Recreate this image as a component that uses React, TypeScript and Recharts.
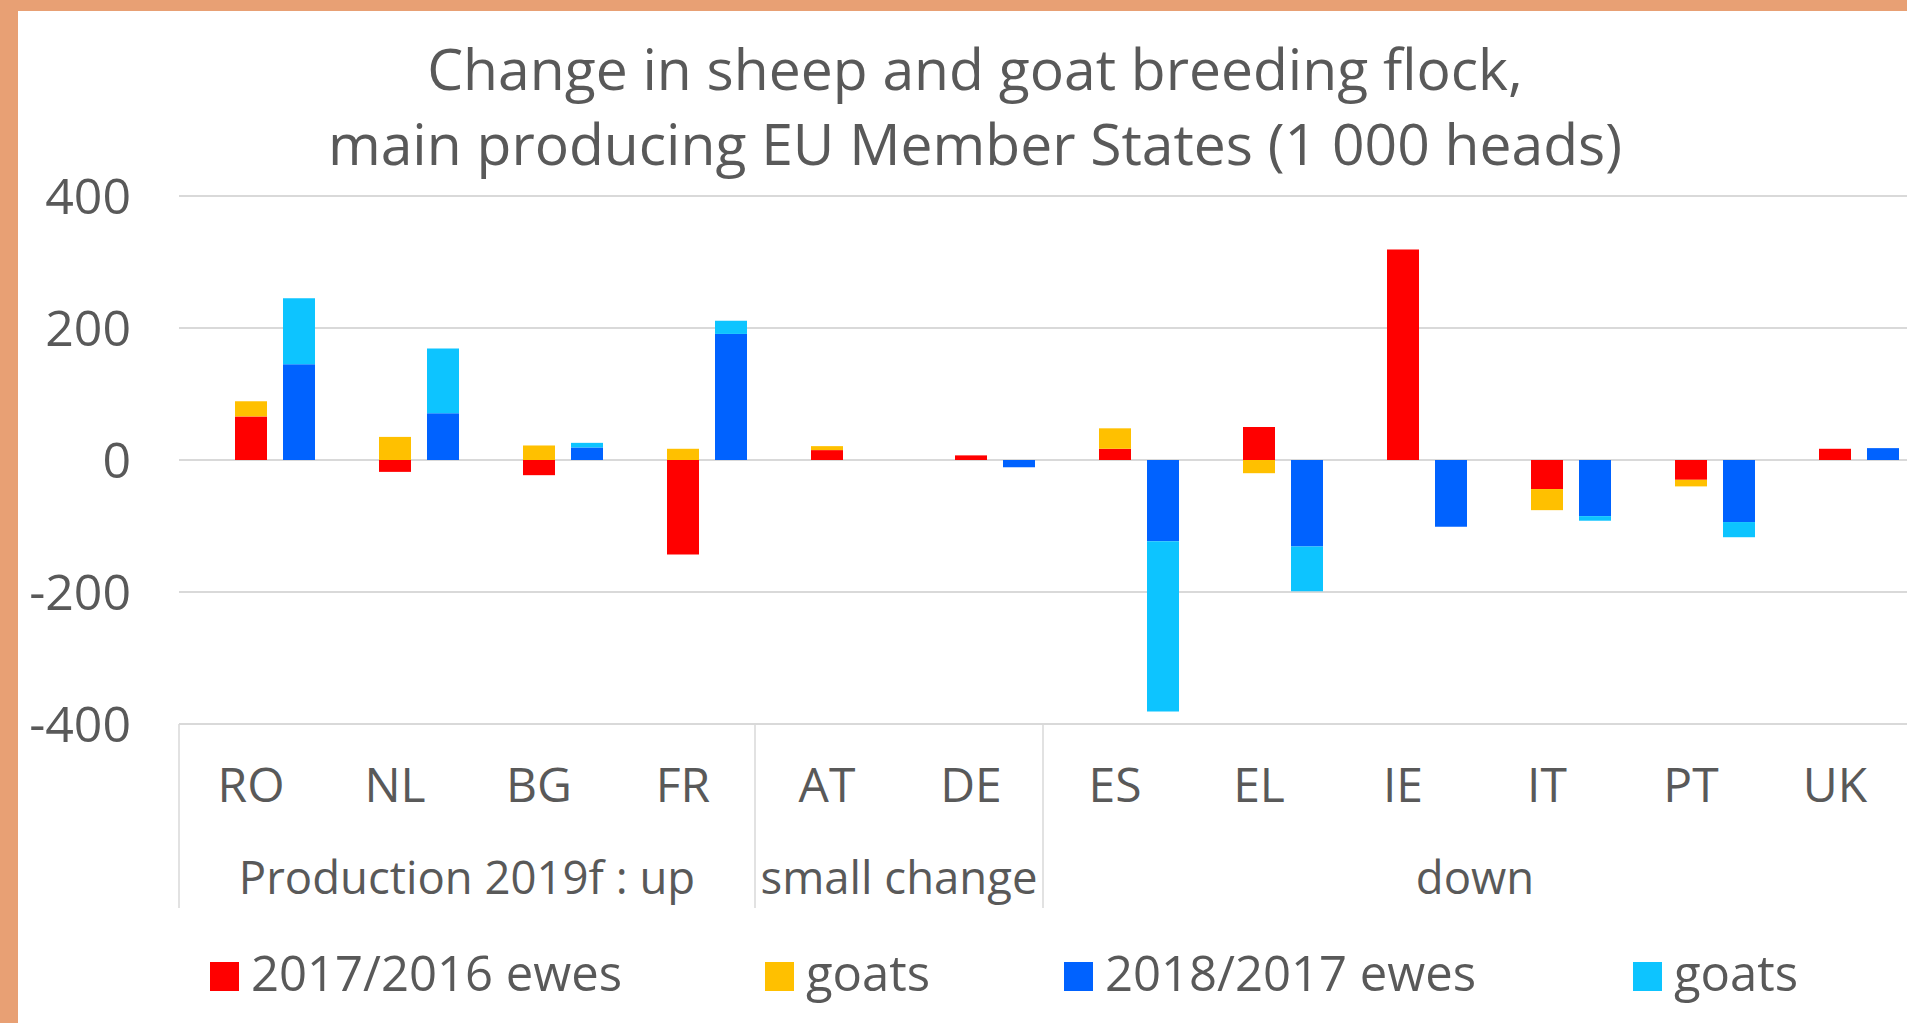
import React from 'react';
import { BarChart, Bar, XAxis, YAxis, CartesianGrid } from 'recharts';

// ---------- data ----------
const categories = ['RO', 'NL', 'BG', 'FR', 'AT', 'DE', 'ES', 'EL', 'IE', 'IT', 'PT', 'UK'];
const ewes2017 = [66, -18, -23, -143, 15, 7, 17, 50, 319, -44, -30, 17];
const goats2017 = [23, 35, 22, 17, 6, 0, 31, -20, 0, -32, -10, 0];
const ewes2018 = [145, 71, 19, 191, 0, -11, -123, -131, -101, -85, -94, 18];
const goats2018 = [100, 98, 7, 20, 0, 0, -258, -68, 0, -7, -23, 0];
const groupLabels = ['Production 2019f : up', 'small change', 'down'];
const groupSizes = [4, 2, 6];
const yTicks = [-400, -200, 0, 200, 400];
const seriesKeys = ['ewes2017', 'goats2017', 'ewes2018', 'goats2018'];
const seriesNames = ['2017/2016 ewes', 'goats', '2018/2017 ewes', 'goats'];
const seriesColors = ['#FF0000', '#FFC000', '#0062FF', '#0DC4FF'];
const seriesStacks = ['y2017', 'y2017', 'y2018', 'y2018'];
const titleLines = [
  'Change in sheep and goat breeding flock,',
  'main producing EU Member States (1 000 heads)',
];

// ---------- layout / style ----------
const W = 1907;
const H = 1023;
const FONT = "'Open Sans', sans-serif";
const TEXT = '#595959';
const GRID = '#D9D9D9';
const BORDER = '#E8A074';
const Y_AXIS_W = 179;
const X_AXIS_H = 200;
const MARGIN = { top: 196, right: 0, bottom: 99, left: 0 };
const BAND = (W - Y_AXIS_W - MARGIN.left - MARGIN.right) / categories.length;
const LEGEND_LEFTS = [210, 765, 1064, 1633];

const data = categories.map((cat, i) => ({
  cat,
  spacer: 0,
  ewes2017: ewes2017[i],
  goats2017: goats2017[i],
  ewes2018: ewes2018[i],
  goats2018: goats2018[i],
}));

// index -> group info for group starts
const groupStarts: Record<number, { label: string; size: number }> = {};
{
  let idx = 0;
  groupSizes.forEach((s, g) => {
    groupStarts[idx] = { label: groupLabels[g], size: s };
    idx += s;
  });
}

function CategoryTick(props: any) {
  const { x, y, payload, index } = props;
  const half = typeof payload?.offset === 'number' && payload.offset > 0 ? payload.offset : BAND / 2;
  const g = groupStarts[index];
  return (
    <g>
      <text x={x} y={y + 78} textAnchor="middle" fontSize={48} fill={TEXT} fontFamily={FONT}>
        {payload.value}
      </text>
      {g && (
        <line x1={x - half} x2={x - half} y1={y} y2={y + 184} stroke={GRID} strokeWidth={1.5} />
      )}
      {g && (
        <text
          x={x - half + g.size * half}
          y={y + 170}
          textAnchor="middle"
          fontSize={45.5}
          fill={TEXT}
          fontFamily={FONT}
        >
          {g.label}
        </text>
      )}
    </g>
  );
}

export default function App() {
  return (
    <div
      style={{
        position: 'absolute',
        left: 0,
        top: 0,
        width: W,
        height: H,
        overflow: 'hidden',
        background: '#FFFFFF',
        fontFamily: FONT,
      }}
    >
      <div style={{ position: 'absolute', left: 0, top: 0, width: W, height: 11, background: BORDER }} />
      <div style={{ position: 'absolute', left: 0, top: 0, width: 18, height: H, background: BORDER }} />

      <svg
        width={W}
        height={200}
        style={{ position: 'absolute', left: 0, top: 0, pointerEvents: 'none' }}
      >
        {titleLines.map((t, i) => (
          <text
            key={i}
            x={975}
            y={90 + i * 75}
            textAnchor="middle"
            fontSize={57}
            fill={TEXT}
            fontFamily={FONT}
          >
            {t}
          </text>
        ))}
      </svg>

      <div style={{ position: 'absolute', left: 0, top: 0 }}>
        <BarChart
          width={W}
          height={H}
          data={data}
          margin={MARGIN}
          stackOffset="sign"
          barSize={32}
          barGap={16}
        >
          <CartesianGrid vertical={false} stroke={GRID} strokeWidth={2} />
          <XAxis
            dataKey="cat"
            type="category"
            height={X_AXIS_H}
            axisLine={false}
            tickLine={false}
            tickSize={0}
            tickMargin={0}
            interval={0}
            tick={<CategoryTick />}
          />
          <YAxis
            type="number"
            domain={[-400, 400]}
            ticks={yTicks}
            width={Y_AXIS_W}
            axisLine={false}
            tickLine={false}
            tickSize={0}
            tickMargin={48}
            tick={{ fontSize: 50, fill: TEXT, fontFamily: FONT }}
          />
          <Bar dataKey="spacer" stackId="spacer" fill="transparent" isAnimationActive={false} legendType="none" />
          {seriesKeys.map((k, i) => (
            <Bar
              key={k}
              dataKey={k}
              name={seriesNames[i]}
              stackId={seriesStacks[i]}
              fill={seriesColors[i]}
              isAnimationActive={false}
            />
          ))}
        </BarChart>
      </div>

      {seriesNames.map((n, i) => (
        <div
          key={i}
          style={{
            position: 'absolute',
            left: LEGEND_LEFTS[i],
            top: 939,
            display: 'flex',
            alignItems: 'baseline',
            fontSize: 49,
            lineHeight: '66px',
            color: TEXT,
            whiteSpace: 'nowrap',
          }}
        >
          <div style={{ width: 29, height: 29, background: seriesColors[i], marginRight: 12 }} />
          <span>{n}</span>
        </div>
      ))}
    </div>
  );
}
